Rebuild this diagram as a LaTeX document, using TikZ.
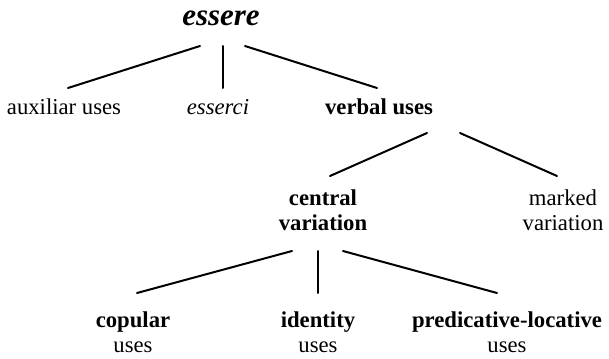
\documentclass[tikz,border=0pt]{standalone}
\usepackage{fontspec}
\setmainfont{Liberation Serif}
\usetikzlibrary{calc}
\begin{document}
\begin{tikzpicture}[x=1pt,y=-1pt,
  lbl/.style={inner sep=0pt, anchor=base, align=center,
    font=\fontsize{22.7}{25}\selectfont},
  blbl/.style={lbl, font=\fontsize{22.7}{25}\selectfont\bfseries},
  edge/.style={line width=2pt, line cap=round}]
\useasboundingbox[fill=white] (0,0) rectangle (609,358);
% tree labels (two-line labels are placed by the baseline of their last line)
\node[lbl, font=\fontsize{31}{31}\selectfont\bfseries\itshape] (essere) at (221,26) {essere};
\node[lbl] (aux) at (64,115) {auxiliar uses};
\node[lbl, font=\fontsize{22.7}{25}\selectfont\itshape] (esserci) at (218,115) {esserci};
\node[blbl] (verbal) at (379,115) {verbal uses};
\node[blbl] (central) at (323,230) {central\\variation};
\node[lbl] (marked) at (563,230) {marked\\variation};
\node[lbl] (copular) at (133,352) {\bfseries copular\\uses};
\node[lbl] (identity) at (318,352) {\bfseries identity\\uses};
\node[lbl] (pred) at (507,352) {\bfseries predicative-locative\\uses};
% branches
\draw[edge] ($(essere.base)+(-21,20)$) -- ($(aux.base)+(4,-27)$);
\draw[edge] ($(essere.base)+(2,20)$) -- ($(esserci.base)+(5,-27)$);
\draw[edge] ($(essere.base)+(24,20)$) -- ($(verbal.base)+(-2,-27)$);
\draw[edge] ($(verbal.base)+(48,18)$) -- ($(central.base)+(7,-54)$);
\draw[edge] ($(verbal.base)+(81,18)$) -- ($(marked.base)+(-6,-54)$);
\draw[edge] ($(central.base)+(-31,21)$) -- ($(copular.base)+(4,-59)$);
\draw[edge] ($(central.base)+(-5,21)$) -- ($(identity.base)+(0,-59)$);
\draw[edge] ($(central.base)+(20,21)$) -- ($(pred.base)+(-10,-59)$);
\end{tikzpicture}
\end{document}
